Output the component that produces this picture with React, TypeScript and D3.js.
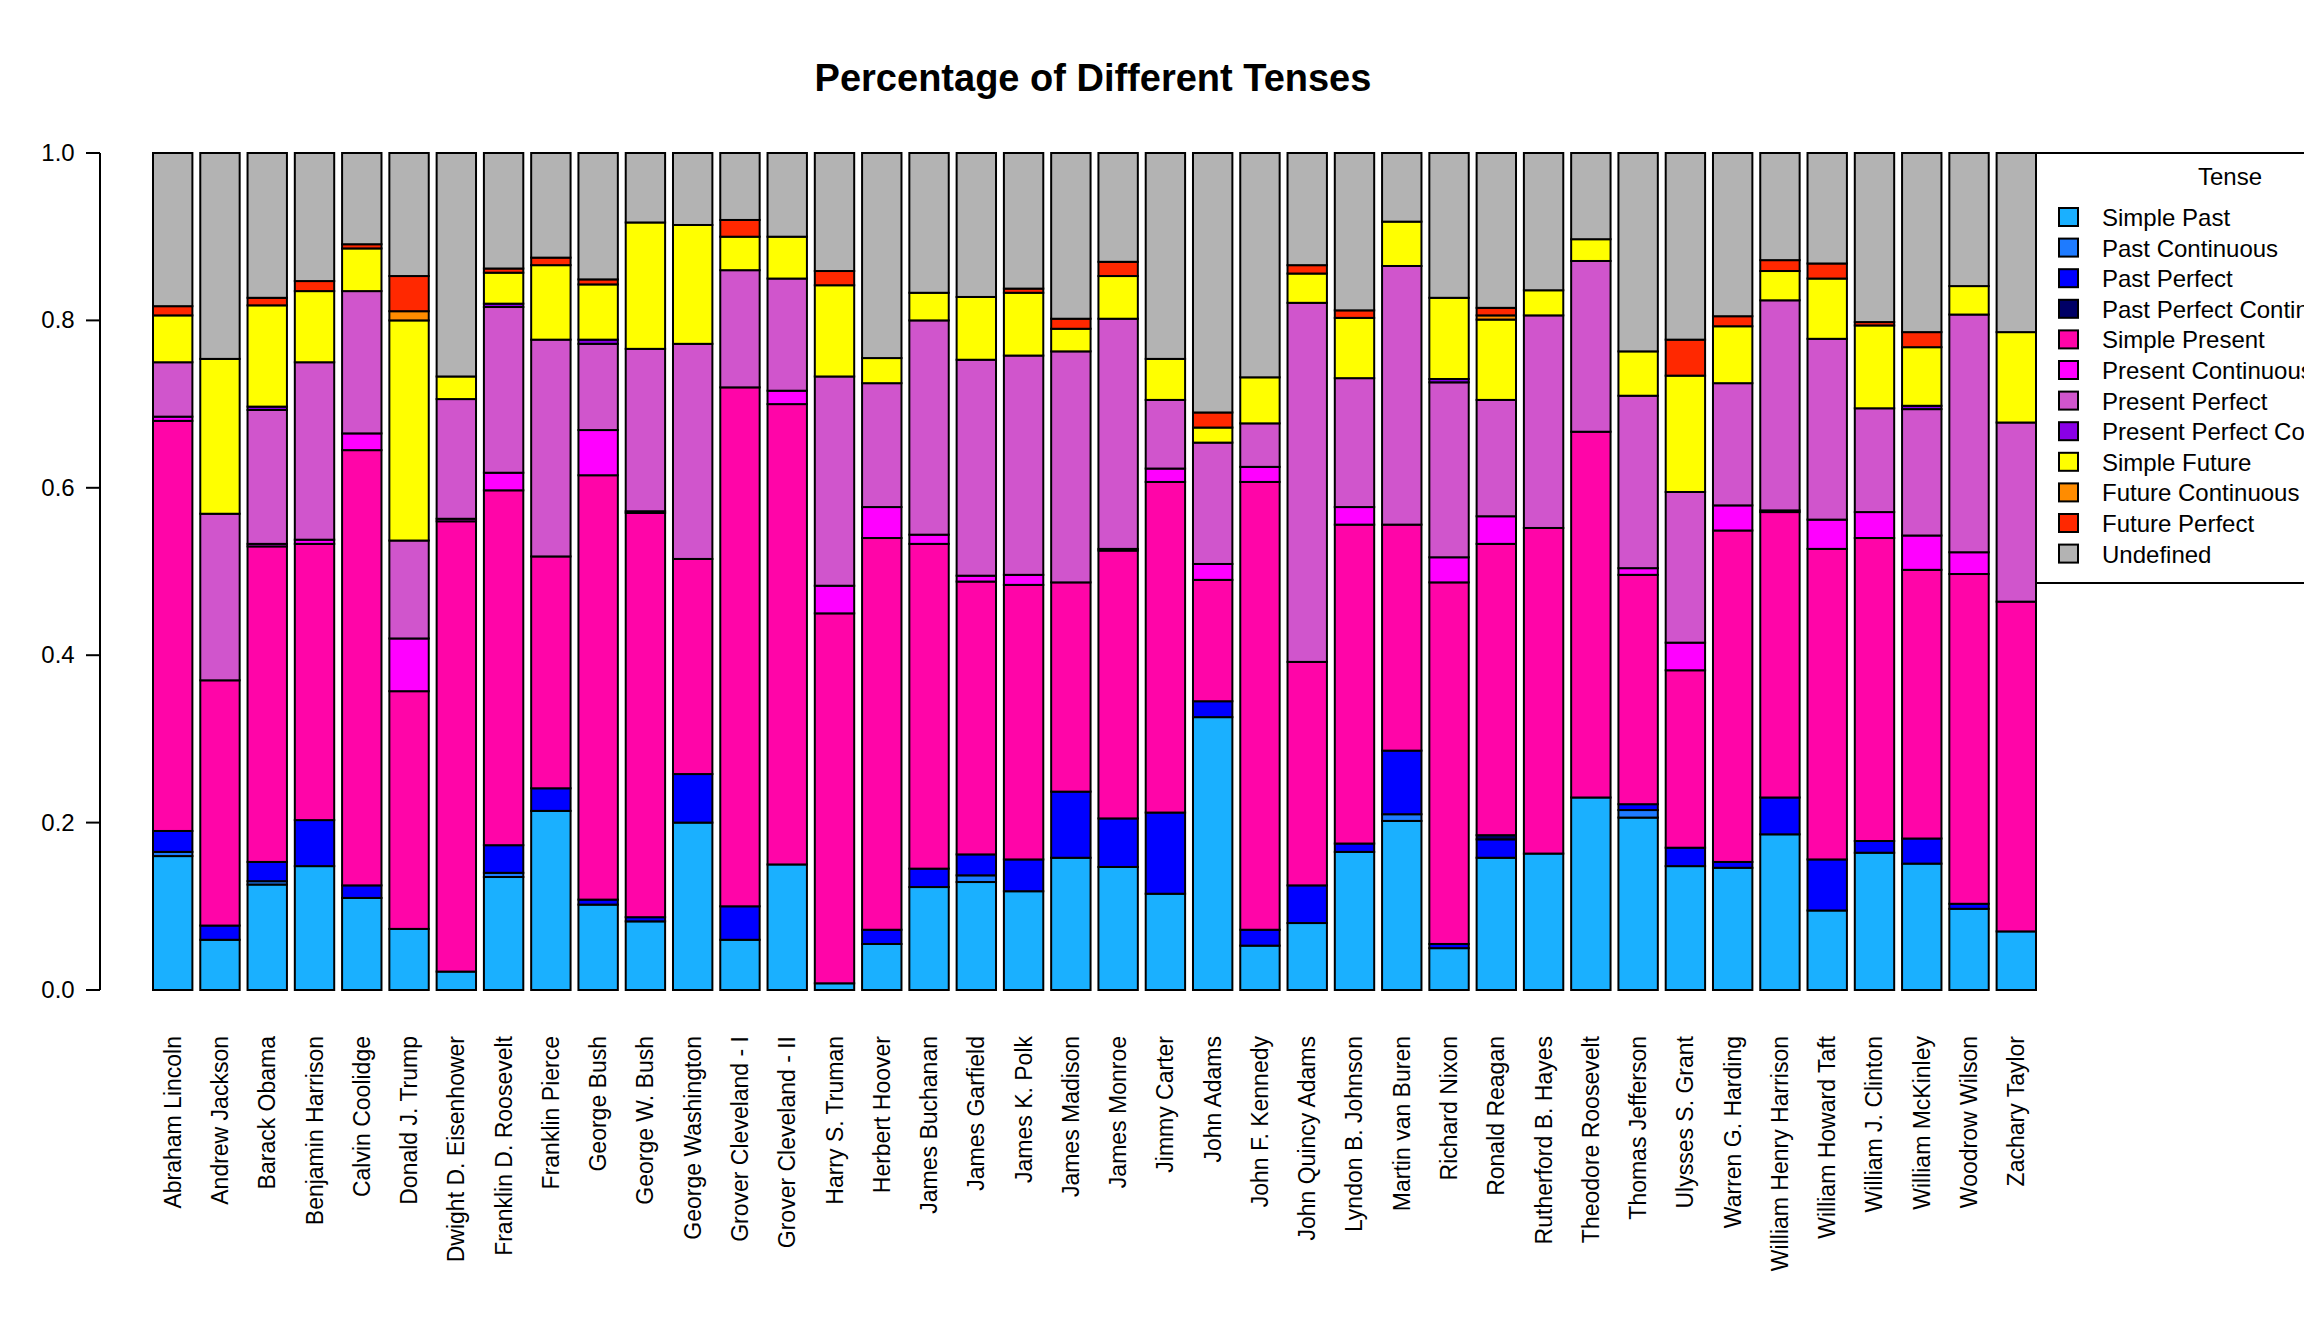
import React from "react";
import * as d3 from "d3";

const presidents = ["Abraham Lincoln","Andrew Jackson","Barack Obama","Benjamin Harrison","Calvin Coolidge","Donald J. Trump","Dwight D. Eisenhower","Franklin D. Roosevelt","Franklin Pierce","George Bush","George W. Bush","George Washington","Grover Cleveland - I","Grover Cleveland - II","Harry S. Truman","Herbert Hoover","James Buchanan","James Garfield","James K. Polk","James Madison","James Monroe","Jimmy Carter","John Adams","John F. Kennedy","John Quincy Adams","Lyndon B. Johnson","Martin van Buren","Richard Nixon","Ronald Reagan","Rutherford B. Hayes","Theodore Roosevelt","Thomas Jefferson","Ulysses S. Grant","Warren G. Harding","William Henry Harrison","William Howard Taft","William J. Clinton","William McKinley","Woodrow Wilson","Zachary Taylor"];

const tenses = ["Simple Past","Past Continuous","Past Perfect","Past Perfect Continuous","Simple Present","Present Continuous","Present Perfect","Present Perfect Continuous","Simple Future","Future Continuous","Future Perfect","Undefined"];
const colors = ["#1AB0FF","#1E7BFF","#0000FF","#000066","#FF05A8","#FF00FF","#D055CC","#8A00E6","#FFFF00","#FF8C00","#FF2800","#B3B3B3"];

// Cumulative upper boundary of each tense layer, per president
const topSimplePast = [0.16,0.06,0.126,0.148,0.11,0.073,0.022,0.135,0.214,0.102,0.082,0.2,0.06,0.15,0.008,0.055,0.123,0.129,0.118,0.158,0.147,0.115,0.326,0.053,0.08,0.165,0.202,0.05,0.158,0.163,0.23,0.206,0.148,0.146,0.186,0.095,0.164,0.151,0.097,0.07];
const topPastCont = [0.165,0.06,0.13,0.148,0.11,0.073,0.022,0.14,0.214,0.102,0.082,0.2,0.06,0.15,0.008,0.055,0.123,0.137,0.118,0.158,0.147,0.115,0.326,0.053,0.08,0.165,0.21,0.05,0.158,0.163,0.23,0.215,0.148,0.146,0.186,0.095,0.164,0.151,0.097,0.07];
const topPastPerf = [0.19,0.077,0.153,0.203,0.125,0.073,0.022,0.173,0.241,0.108,0.087,0.258,0.1,0.15,0.008,0.072,0.145,0.162,0.156,0.237,0.205,0.212,0.345,0.072,0.125,0.175,0.286,0.055,0.18,0.163,0.23,0.222,0.17,0.153,0.23,0.156,0.178,0.181,0.103,0.07];
const topPastPerfCont = [0.19,0.077,0.153,0.203,0.125,0.073,0.022,0.173,0.241,0.108,0.087,0.258,0.1,0.15,0.008,0.072,0.145,0.162,0.156,0.237,0.205,0.212,0.345,0.072,0.125,0.175,0.286,0.055,0.185,0.163,0.23,0.222,0.17,0.153,0.23,0.156,0.178,0.181,0.103,0.07];
const topSimplePresent = [0.68,0.37,0.53,0.533,0.645,0.357,0.56,0.597,0.518,0.615,0.57,0.515,0.72,0.70,0.45,0.54,0.533,0.488,0.484,0.487,0.525,0.607,0.49,0.607,0.392,0.556,0.556,0.487,0.533,0.552,0.667,0.496,0.382,0.549,0.571,0.527,0.54,0.502,0.497,0.464];
const topPresentCont = [0.685,0.37,0.533,0.538,0.665,0.42,0.563,0.618,0.518,0.669,0.572,0.515,0.72,0.716,0.483,0.577,0.544,0.495,0.496,0.487,0.527,0.623,0.509,0.625,0.392,0.577,0.556,0.517,0.566,0.552,0.667,0.504,0.415,0.579,0.573,0.562,0.571,0.543,0.523,0.464];
const topPresentPerf = [0.75,0.569,0.693,0.75,0.835,0.537,0.706,0.816,0.777,0.772,0.766,0.772,0.86,0.85,0.733,0.725,0.8,0.753,0.758,0.763,0.802,0.705,0.654,0.677,0.821,0.731,0.865,0.726,0.705,0.806,0.871,0.71,0.595,0.725,0.824,0.778,0.695,0.694,0.807,0.678];
const topPresentPerfCont = [0.75,0.569,0.697,0.75,0.835,0.537,0.706,0.82,0.777,0.777,0.766,0.772,0.86,0.85,0.733,0.725,0.8,0.753,0.758,0.763,0.802,0.705,0.654,0.677,0.821,0.731,0.865,0.73,0.705,0.806,0.871,0.71,0.595,0.725,0.824,0.778,0.695,0.698,0.807,0.678];
const topSimpleFuture = [0.806,0.754,0.818,0.835,0.886,0.8,0.733,0.857,0.866,0.843,0.917,0.914,0.9,0.9,0.842,0.755,0.833,0.828,0.833,0.79,0.853,0.754,0.672,0.732,0.856,0.803,0.918,0.827,0.801,0.836,0.897,0.763,0.734,0.793,0.859,0.85,0.794,0.768,0.841,0.786];
const topFutureCont = [0.806,0.754,0.818,0.835,0.886,0.811,0.733,0.857,0.866,0.843,0.917,0.914,0.9,0.9,0.842,0.755,0.833,0.828,0.833,0.79,0.853,0.754,0.672,0.732,0.856,0.803,0.918,0.827,0.806,0.836,0.897,0.763,0.734,0.793,0.859,0.85,0.794,0.768,0.841,0.786];
const topFuturePerf = [0.817,0.754,0.827,0.847,0.891,0.853,0.733,0.862,0.875,0.849,0.917,0.914,0.92,0.9,0.859,0.755,0.833,0.828,0.838,0.802,0.87,0.754,0.69,0.732,0.866,0.812,0.918,0.827,0.815,0.836,0.897,0.763,0.777,0.805,0.872,0.868,0.798,0.786,0.841,0.786];
const topUndefined = presidents.map(() => 1);

const tops = [topSimplePast,topPastCont,topPastPerf,topPastPerfCont,topSimplePresent,topPresentCont,topPresentPerf,topPresentPerfCont,topSimpleFuture,topFutureCont,topFuturePerf,topUndefined];
const yTicks = [0, 0.2, 0.4, 0.6, 0.8, 1.0];

export default function App() {
  const W = 2304, H = 1344;
  const x = d3.scaleBand<string>().domain(presidents).range([153, 2036]).paddingInner(1 / 6).paddingOuter(0);
  const y = d3.scaleLinear().domain([0, 1]).range([990, 153]);
  const font = "Liberation Sans, Arial, sans-serif";
  const legendY0 = 217, legendStep = 30.6;
  return (
    <svg width={W} height={H} style={{ position: "absolute", left: 0, top: 0, background: "#fff" }} fontFamily={font}>
      <text x={1093} y={91} textAnchor="middle" fontSize={38} fontWeight="bold">Percentage of Different Tenses</text>
      {presidents.map((p, i) => (
        <g key={p}>
          {tenses.map((t, k) => {
            const lo = k === 0 ? 0 : tops[k - 1][i];
            const hi = tops[k][i];
            if (hi - lo <= 0) return null;
            return <rect key={t} x={x(p)} width={x.bandwidth()} y={y(hi)} height={y(lo) - y(hi)} fill={colors[k]} stroke="#000" strokeWidth={2} />;
          })}
          <text transform={`translate(${(x(p) as number) + x.bandwidth() / 2 + 8},1036) rotate(-90)`} textAnchor="end" fontSize={23}>{p}</text>
        </g>
      ))}
      <line x1={100} x2={100} y1={y(0)} y2={y(1)} stroke="#000" strokeWidth={2} />
      {yTicks.map(t => (
        <g key={t}>
          <line x1={86} x2={100} y1={y(t)} y2={y(t)} stroke="#000" strokeWidth={2} />
          <text x={58} y={y(t) + 8} textAnchor="middle" fontSize={24}>{t.toFixed(1)}</text>
        </g>
      ))}
      <rect x={2036} y={153} width={300} height={430} fill="#fff" stroke="#000" strokeWidth={2} />
      <text x={2230} y={185} textAnchor="middle" fontSize={24}>Tense</text>
      {tenses.map((t, k) => (
        <g key={t}>
          <rect x={2059} y={legendY0 + k * legendStep - 9} width={19} height={18} fill={colors[k]} stroke="#000" strokeWidth={2} />
          <text x={2102} y={legendY0 + k * legendStep + 9} fontSize={24}>{t}</text>
        </g>
      ))}
    </svg>
  );
}
